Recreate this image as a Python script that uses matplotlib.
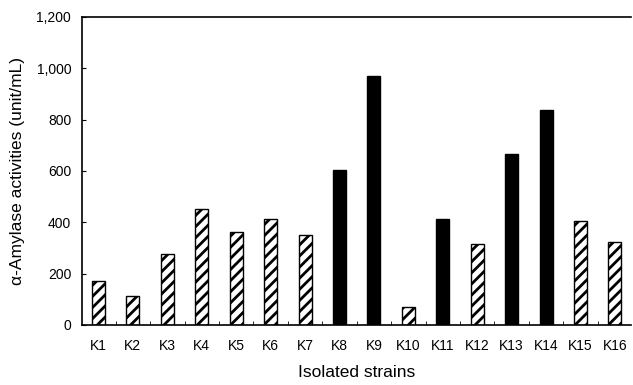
import numpy as np
import matplotlib.pyplot as plt

plt.rcParams['font.family'] = ['Liberation Sans', 'DejaVu Sans']
plt.rcParams['hatch.linewidth'] = 2.0

strains = ["K1", "K2", "K3", "K4", "K5", "K6", "K7", "K8",
           "K9", "K10", "K11", "K12", "K13", "K14", "K15", "K16"]
activity = [170, 114, 278, 452, 361, 414, 349, 605,
            971, 69, 412, 314, 665, 836, 405, 322]
solid = [False, False, False, False, False, False, False, True,
         True, False, True, False, True, True, False, False]

fig = plt.figure(figsize=(6.33, 3.85), dpi=100)
ax = fig.add_axes([0.13, 0.156, 0.867, 0.8])

x = np.arange(len(strains))
for xi, v, s in zip(x, activity, solid):
    if s:
        ax.bar(xi, v, width=0.38, color="black", edgecolor="black", linewidth=1)
    else:
        ax.bar(xi, v, width=0.38, color="white", edgecolor="black",
               hatch="///", linewidth=1)

ax.set_xlim(-0.47, len(strains) - 0.53)
ax.set_ylim(0, 1200)
ax.set_yticks(range(0, 1201, 200))
ax.set_yticklabels(["0", "200", "400", "600", "800", "1,000", "1,200"])
ax.set_xticks(x)
ax.set_xticklabels(strains)
ax.set_xticks(np.arange(0.5, len(strains) - 1, 1), minor=True)

ax.spines["right"].set_visible(False)
ax.spines["left"].set_linewidth(1.2)
ax.spines["bottom"].set_linewidth(1.2)
ax.spines["top"].set_linewidth(1.2)

ax.tick_params(axis="x", which="major", length=0, pad=10, labelsize=10)
ax.tick_params(axis="x", which="minor", direction="in", length=3)
ax.tick_params(axis="y", direction="in", length=3, labelsize=10, pad=8)

ax.set_xlabel("Isolated strains", fontsize=12.5, labelpad=9)
ax.set_ylabel("\u03b1-Amylase activities (unit/mL)", fontsize=12.5, labelpad=8)

fig.savefig("out.png", dpi=100)
